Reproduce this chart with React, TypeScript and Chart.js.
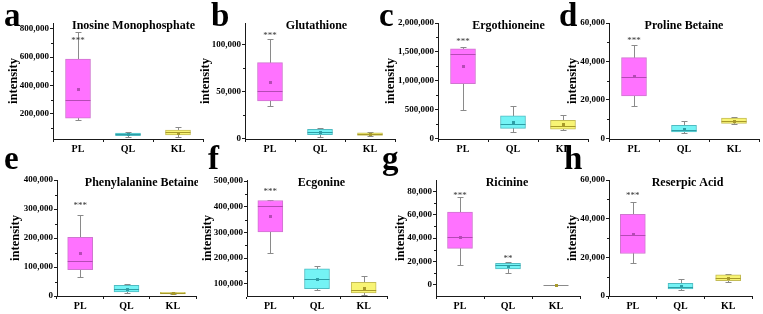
import React, { useEffect, useRef } from 'react';
import { Chart, registerables } from 'chart.js';

Chart.register(...registerables);

const groups = ['PL', 'QL', 'KL'];

// a — Inosine Monophosphate
const inosineMin = [158000, 41000, 40000];
const inosineQ1 = [170000, 47000, 52000];
const inosineMedian = [299000, 57000, 71000];
const inosineQ3 = [586000, 65000, 87000];
const inosineMax = [777000, 73000, 110000];
const inosineMean = [376000, 57000, 68000];
const inosineTicks = [200000, 400000, 600000, 800000];
const inosineSig = ['***', '', ''];
const inosineSigAt = [729000, 0, 0];

// b — Glutathione
const glutathioneMin = [34600, 1000, 2500];
const glutathioneQ1 = [40000, 3900, 3200];
const glutathioneMedian = [50600, 6700, 4600];
const glutathioneQ3 = [81000, 9600, 6000];
const glutathioneMax = [106000, 11300, 6700];
const glutathioneMean = [60600, 7100, 4600];
const glutathioneTicks = [0, 50000, 100000];
const glutathioneSig = ['***', '', ''];
const glutathioneSigAt = [112000, 0, 0];

// c — Ergothioneine
const ergothioneineMin = [490000, 103000, 148000];
const ergothioneineQ1 = [948000, 172000, 160000];
const ergothioneineMedian = [1465000, 247000, 212000];
const ergothioneineQ3 = [1552000, 390000, 310000];
const ergothioneineMax = [1591000, 557000, 402000];
const ergothioneineMean = [1252000, 286000, 247000];
const ergothioneineTicks = [0, 500000, 1000000, 1500000, 2000000];
const ergothioneineSig = ['***', '', ''];
const ergothioneineSigAt = [1712000, 0, 0];

// d — Proline Betaine
const prolineMin = [16800, 2900, 7300];
const prolineQ1 = [22000, 3300, 7800];
const prolineMedian = [31700, 4500, 9100];
const prolineQ3 = [42000, 6700, 10500];
const prolineMax = [48800, 8800, 11200];
const prolineMean = [32200, 5000, 9100];
const prolineTicks = [0, 20000, 40000, 60000];
const prolineSig = ['***', '', ''];
const prolineSigAt = [51900, 0, 0];

// e — Phenylalanine Betaine
const phenylMin = [65000, 9000, 5800];
const phenylQ1 = [91000, 13700, 7000];
const phenylMedian = [122000, 23000, 10000];
const phenylQ3 = [202000, 36600, 12600];
const phenylMax = [279000, 42000, 14700];
const phenylMean = [148000, 25000, 10000];
const phenylTicks = [0, 100000, 200000, 300000, 400000];
const phenylSig = ['***', '', ''];
const phenylSigAt = [319000, 0, 0];

// f — Ecgonine
const ecgonineMin = [219000, 74000, 57000];
const ecgonineQ1 = [302000, 80500, 64000];
const ecgonineMedian = [403000, 118000, 74000];
const ecgonineQ3 = [424000, 158000, 105000];
const ecgonineMax = [428000, 168000, 130000];
const ecgonineMean = [363000, 118000, 84000];
const ecgonineTicks = [100000, 200000, 300000, 400000, 500000];
const ecgonineSig = ['***', '', ''];
const ecgonineSigAt = [467000, 0, 0];

// g — Ricinine
const ricinineMin = [16800, 10300, 0];
const ricinineQ1 = [31200, 13500, 0];
const ricinineMedian = [40500, 17100, 0];
const ricinineQ3 = [62300, 18300, 0];
const ricinineMax = [75200, 19200, 0];
const ricinineMean = [41000, 16000, 0];
const ricinineTicks = [0, 20000, 40000, 60000, 80000];
const ricinineSig = ['***', '**', ''];
const ricinineSigAt = [78600, 24000, 0];

// h — Reserpic Acid
const reserpicMin = [16900, 3100, 7400];
const reserpicQ1 = [22000, 3600, 7900];
const reserpicMedian = [31500, 4800, 9500];
const reserpicQ3 = [42200, 6500, 10900];
const reserpicMax = [48800, 9000, 11400];
const reserpicMean = [32000, 5200, 9500];
const reserpicTicks = [0, 20000, 40000, 60000];
const reserpicSig = ['***', '', ''];
const reserpicSigAt = [53000, 0, 0];

type PanelData = {
  letter: string;
  title: string;
  min: number[];
  q1: number[];
  median: number[];
  q3: number[];
  max: number[];
  mean: number[];
  ticks: number[];
  sig: string[];
  sigAt: number[];
  yMin: number;
  yMax: number;
};

const panels: PanelData[] = [
  { letter: 'a', title: 'Inosine Monophosphate', min: inosineMin, q1: inosineQ1, median: inosineMedian, q3: inosineQ3, max: inosineMax, mean: inosineMean, ticks: inosineTicks, sig: inosineSig, sigAt: inosineSigAt, yMin: 24000, yMax: 840000 },
  { letter: 'b', title: 'Glutathione', min: glutathioneMin, q1: glutathioneQ1, median: glutathioneMedian, q3: glutathioneQ3, max: glutathioneMax, mean: glutathioneMean, ticks: glutathioneTicks, sig: glutathioneSig, sigAt: glutathioneSigAt, yMin: -700, yMax: 123500 },
  { letter: 'c', title: 'Ergothioneine', min: ergothioneineMin, q1: ergothioneineQ1, median: ergothioneineMedian, q3: ergothioneineQ3, max: ergothioneineMax, mean: ergothioneineMean, ticks: ergothioneineTicks, sig: ergothioneineSig, sigAt: ergothioneineSigAt, yMin: -12000, yMax: 2000000 },
  { letter: 'd', title: 'Proline Betaine', min: prolineMin, q1: prolineQ1, median: prolineMedian, q3: prolineQ3, max: prolineMax, mean: prolineMean, ticks: prolineTicks, sig: prolineSig, sigAt: prolineSigAt, yMin: -360, yMax: 60000 },
  { letter: 'e', title: 'Phenylalanine Betaine', min: phenylMin, q1: phenylQ1, median: phenylMedian, q3: phenylQ3, max: phenylMax, mean: phenylMean, ticks: phenylTicks, sig: phenylSig, sigAt: phenylSigAt, yMin: 0, yMax: 400000 },
  { letter: 'f', title: 'Ecgonine', min: ecgonineMin, q1: ecgonineQ1, median: ecgonineMedian, q3: ecgonineQ3, max: ecgonineMax, mean: ecgonineMean, ticks: ecgonineTicks, sig: ecgonineSig, sigAt: ecgonineSigAt, yMin: 52000, yMax: 504000 },
  { letter: 'g', title: 'Ricinine', min: ricinineMin, q1: ricinineQ1, median: ricinineMedian, q3: ricinineQ3, max: ricinineMax, mean: ricinineMean, ticks: ricinineTicks, sig: ricinineSig, sigAt: ricinineSigAt, yMin: -9700, yMax: 89800 },
  { letter: 'h', title: 'Reserpic Acid', min: reserpicMin, q1: reserpicQ1, median: reserpicMedian, q3: reserpicQ3, max: reserpicMax, mean: reserpicMean, ticks: reserpicTicks, sig: reserpicSig, sigAt: reserpicSigAt, yMin: 0, yMax: 60000 },
];

// Layout (page pixels)
type Layout = { plotLeft: number; plotRight: number; row: number; titleX: number; yTitleX: number; letterX: number };
const layouts: Layout[] = [
  { plotLeft: 53, plotRight: 203, row: 0, titleX: 133.5, yTitleX: 14, letterX: 4 },
  { plotLeft: 245, plotRight: 395, row: 0, titleX: 316.5, yTitleX: 206, letterX: 211 },
  { plotLeft: 438, plotRight: 588, row: 0, titleX: 508.5, yTitleX: 391, letterX: 379 },
  { plotLeft: 609, plotRight: 759, row: 0, titleX: 684, yTitleX: 573, letterX: 559 },
  { plotLeft: 57, plotRight: 196, row: 1, titleX: 142, yTitleX: 16, letterX: 4 },
  { plotLeft: 247, plotRight: 387, row: 1, titleX: 321.5, yTitleX: 207.5, letterX: 208 },
  { plotLeft: 436, plotRight: 580, row: 1, titleX: 507, yTitleX: 401, letterX: 382 },
  { plotLeft: 609, plotRight: 752, row: 1, titleX: 687.5, yTitleX: 573, letterX: 564 },
];

const ROW_H = 157;
const Y_AXIS_W = 60;
const X_AXIS_H = 16;
const PAD_TOP = 23;
const PAD_BOTTOM = 2;
const PAD_RIGHT = 2;
const SERIF = "'Liberation Serif', 'Times New Roman', serif";
const AXIS = '#1a1a1a';
const fills = ['#ff72ff', '#74f3f5', '#f8f474'];
const borders = ['#cf77cf', '#4fbcc2', '#c4bc55'];
const medians = ['#b54ab5', '#2d9ea6', '#a89a2a'];
const WHISKER = '#8a8a8a';

const fmt = (v: number) => String(Math.round(v)).replace(/\B(?=(\d{3})+(?!\d))/g, ',');

function makePlugin(p: PanelData, lay: Layout, canvasLeft: number) {
  return {
    id: 'boxExtras' + p.letter,
    beforeDatasetsDraw(chart: any) {
      const ctx = chart.ctx;
      const xs = chart.scales.x;
      const ys = chart.scales.y;
      ctx.save();
      ctx.strokeStyle = WHISKER;
      ctx.lineWidth = 1;
      p.min.forEach((_, i) => {
        const cx = Math.round(xs.getPixelForValue(i)) + 0.5;
        const yLo = Math.round(ys.getPixelForValue(p.min[i])) + 0.5;
        const yHi = Math.round(ys.getPixelForValue(p.max[i])) + 0.5;
        ctx.beginPath();
        ctx.moveTo(cx, yHi);
        ctx.lineTo(cx, yLo);
        ctx.stroke();
        [yLo, yHi].forEach((yy) => {
          ctx.beginPath();
          ctx.moveTo(cx - 3, yy);
          ctx.lineTo(cx + 3, yy);
          ctx.stroke();
        });
      });
      ctx.restore();
    },
    afterDatasetsDraw(chart: any) {
      const ctx = chart.ctx;
      const xs = chart.scales.x;
      const ys = chart.scales.y;
      ctx.save();
      p.median.forEach((m, i) => {
        const cx = xs.getPixelForValue(i);
        const ym = Math.round(ys.getPixelForValue(m)) + 0.5;
        ctx.strokeStyle = p.q1[i] === p.q3[i] ? WHISKER : medians[i];
        ctx.lineWidth = 1;
        ctx.beginPath();
        ctx.moveTo(cx - 12.5, ym);
        ctx.lineTo(cx + 12.5, ym);
        ctx.stroke();
        const yMean = ys.getPixelForValue(p.mean[i]);
        ctx.fillStyle = medians[i];
        ctx.fillRect(Math.round(cx) - 1, Math.round(yMean) - 1, 3, 3);
        if (p.sig[i]) {
          ctx.fillStyle = '#333';
          ctx.font = `9px ${SERIF}`;
          ctx.textAlign = 'center';
          ctx.textBaseline = 'alphabetic';
          ctx.fillText(p.sig[i], cx, ys.getPixelForValue(p.sigAt[i]) + 4.5);
        }
      });
      ctx.restore();
    },
    afterDraw(chart: any) {
      const ctx = chart.ctx;
      const ys = chart.scales.y;
      const area = chart.chartArea;
      ctx.save();
      // minor ticks
      ctx.strokeStyle = AXIS;
      ctx.lineWidth = 1;
      const t = p.ticks;
      const step = t[1] - t[0];
      const minors: number[] = [];
      for (let v = t[0] - step / 2; v <= p.yMax; v += step) {
        if (v >= p.yMin) minors.push(v);
      }
      minors.forEach((v) => {
        const yy = Math.round(ys.getPixelForValue(v)) + 0.5;
        ctx.beginPath();
        ctx.moveTo(area.left - 2, yy);
        ctx.lineTo(area.left, yy);
        ctx.stroke();
      });
      // panel title
      ctx.fillStyle = '#000';
      ctx.font = `bold 12px ${SERIF}`;
      ctx.textAlign = 'center';
      ctx.textBaseline = 'alphabetic';
      ctx.fillText(p.title, lay.titleX - canvasLeft, 29);
      ctx.restore();
    },
  };
}

function Panel({ p, lay }: { p: PanelData; lay: Layout }) {
  const ref = useRef<HTMLCanvasElement | null>(null);
  const canvasLeft = lay.plotLeft - Y_AXIS_W;
  const width = lay.plotRight - canvasLeft + PAD_RIGHT;
  useEffect(() => {
    if (!ref.current) return;
    const titleFontSize = 12.5;
    const lineH = titleFontSize * 1.2;
    const titlePadTop = Y_AXIS_W - (lay.plotLeft - lay.yTitleX) - lineH / 2;
    const chart = new Chart(ref.current, {
      type: 'bar',
      data: {
        labels: groups,
        datasets: [
          {
            data: p.q1.map((v, i) => [v, p.q3[i]]) as any,
            backgroundColor: fills,
            borderColor: borders,
            borderWidth: 1,
            borderSkipped: false,
            barThickness: 25,
          },
        ],
      },
      options: {
        responsive: false,
        animation: false,
        devicePixelRatio: 1,
        layout: { padding: { left: 0, right: PAD_RIGHT, top: PAD_TOP, bottom: PAD_BOTTOM } },
        plugins: { legend: { display: false }, tooltip: { enabled: false }, title: { display: false } },
        scales: {
          x: {
            type: 'category',
            offset: true,
            grid: { display: true, drawOnChartArea: false, drawTicks: true, tickLength: 3, color: AXIS },
            border: { display: true, color: AXIS, width: 1 },
            ticks: { color: '#000', font: { family: SERIF, size: 10, weight: 'bold' }, padding: 1, maxRotation: 0, autoSkip: false },
            afterFit: (s: any) => {
              s.height = X_AXIS_H;
            },
          },
          y: {
            type: 'linear',
            min: p.yMin,
            max: p.yMax,
            afterBuildTicks: (s: any) => {
              s.ticks = p.ticks.filter((v) => v >= p.yMin && v <= p.yMax).map((v) => ({ value: v }));
            },
            grid: { display: true, drawOnChartArea: false, drawTicks: true, tickLength: 3, color: AXIS },
            border: { display: true, color: AXIS, width: 1 },
            ticks: { color: '#000', font: { family: SERIF, size: 9, weight: 'bold' }, padding: 1, callback: (v: any) => fmt(Number(v)) },
            title: {
              display: true,
              text: 'intensity',
              color: '#000',
              font: { family: SERIF, size: titleFontSize, weight: 'bold' },
              padding: { top: titlePadTop, bottom: 0 },
            },
            afterFit: (s: any) => {
              s.width = Y_AXIS_W;
            },
          },
        },
      },
      plugins: [makePlugin(p, lay, canvasLeft)],
    } as any);
    return () => chart.destroy();
  }, []);
  return (
    <canvas
      ref={ref}
      width={width}
      height={ROW_H}
      style={{ position: 'absolute', left: canvasLeft, top: lay.row * ROW_H, width, height: ROW_H }}
    />
  );
}

export default function App() {
  return (
    <div style={{ position: 'absolute', left: 0, top: 0, width: 763, height: 314, background: '#fff', overflow: 'hidden' }}>
      {panels.map((p, i) => (
        <Panel key={p.letter} p={p} lay={layouts[i]} />
      ))}
      {panels.map((p, i) => (
        <div
          key={'L' + p.letter}
          style={{
            position: 'absolute',
            left: layouts[i].letterX,
            top: layouts[i].row === 0 ? -0.6 : 142.4,
            fontFamily: SERIF,
            fontWeight: 'bold',
            fontSize: 33,
            lineHeight: '33px',
            color: '#000',
          }}
        >
          {p.letter}
        </div>
      ))}
    </div>
  );
}
